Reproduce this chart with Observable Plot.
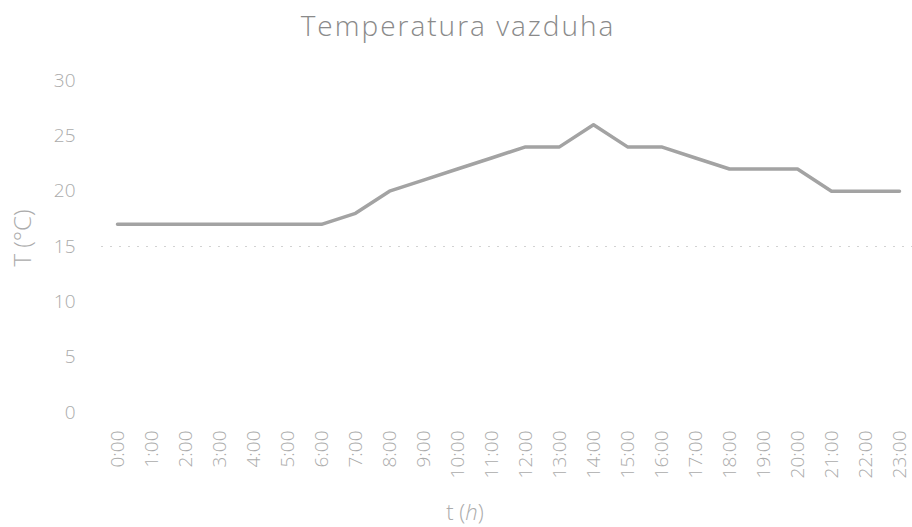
<!DOCTYPE html>
<html><head><meta charset="utf-8">
<script src="https://cdn.jsdelivr.net/npm/d3@7"></script>
<script src="https://cdn.jsdelivr.net/npm/@observablehq/plot@0.6"></script>
<style>
body{margin:0;background:#fff;font-family:"Open Sans",sans-serif;}
#title{height:50px;line-height:50px;text-align:center;font-size:28px;color:#8a8a8a;font-weight:300;letter-spacing:2px;padding-left:4px;}
</style></head><body>
<div id="title">Temperatura vazduha</div>
<div id="chart"></div>
<script>
const hours = ["0:00","1:00","2:00","3:00","4:00","5:00","6:00","7:00","8:00","9:00","10:00","11:00","12:00","13:00","14:00","15:00","16:00","17:00","18:00","19:00","20:00","21:00","22:00","23:00"];
const temps = [17,17,17,17,17,17,17,18,20,21,22,23,24,24,26,24,24,23,22,22,22,20,20,20];
const yTicks = [0,5,10,15,20,25,30];
const data = hours.map((h,i)=>({h, t: temps[i]}));

const plot = Plot.plot({
  width: 912, height: 477,
  marginLeft: 101, marginRight: 0, marginTop: 30, marginBottom: 115,
  style: {fontFamily: "'Open Sans', sans-serif", fontSize: "19px", fontWeight: 300, color: "#ababab", background: "#fff", overflow: "visible"},
  x: {type: "point", domain: hours, range: [117, 899], padding: 0, label: null, tickSize: 0, tickPadding: 18, tickRotate: -90},
  y: {domain: [0,30], ticks: yTicks, label: null, tickSize: 0, tickPadding: 26},
  marks: [
    Plot.ruleY([15], {stroke: "#d2d2d2", strokeDasharray: "2,7"}),
    Plot.line(data, {x: "h", y: "t", stroke: "#a3a3a3", strokeWidth: 3.5})
  ]
});
document.getElementById("chart").appendChild(plot);
const svg = d3.select(plot);
const xl = svg.append("text").attr("x", 465).attr("y", 470).attr("text-anchor","middle")
  .attr("fill","#ababab").style("font-size","22px").style("font-weight","300");
xl.append("tspan").text("t (");
xl.append("tspan").attr("font-style","italic").text("h");
xl.append("tspan").text(")");
svg.append("text").attr("transform","translate(31,188) rotate(-90)").attr("text-anchor","middle")
  .attr("fill","#ababab").style("font-size","24px").style("font-weight","300").text("T (°C)");
</script>
</body></html>
